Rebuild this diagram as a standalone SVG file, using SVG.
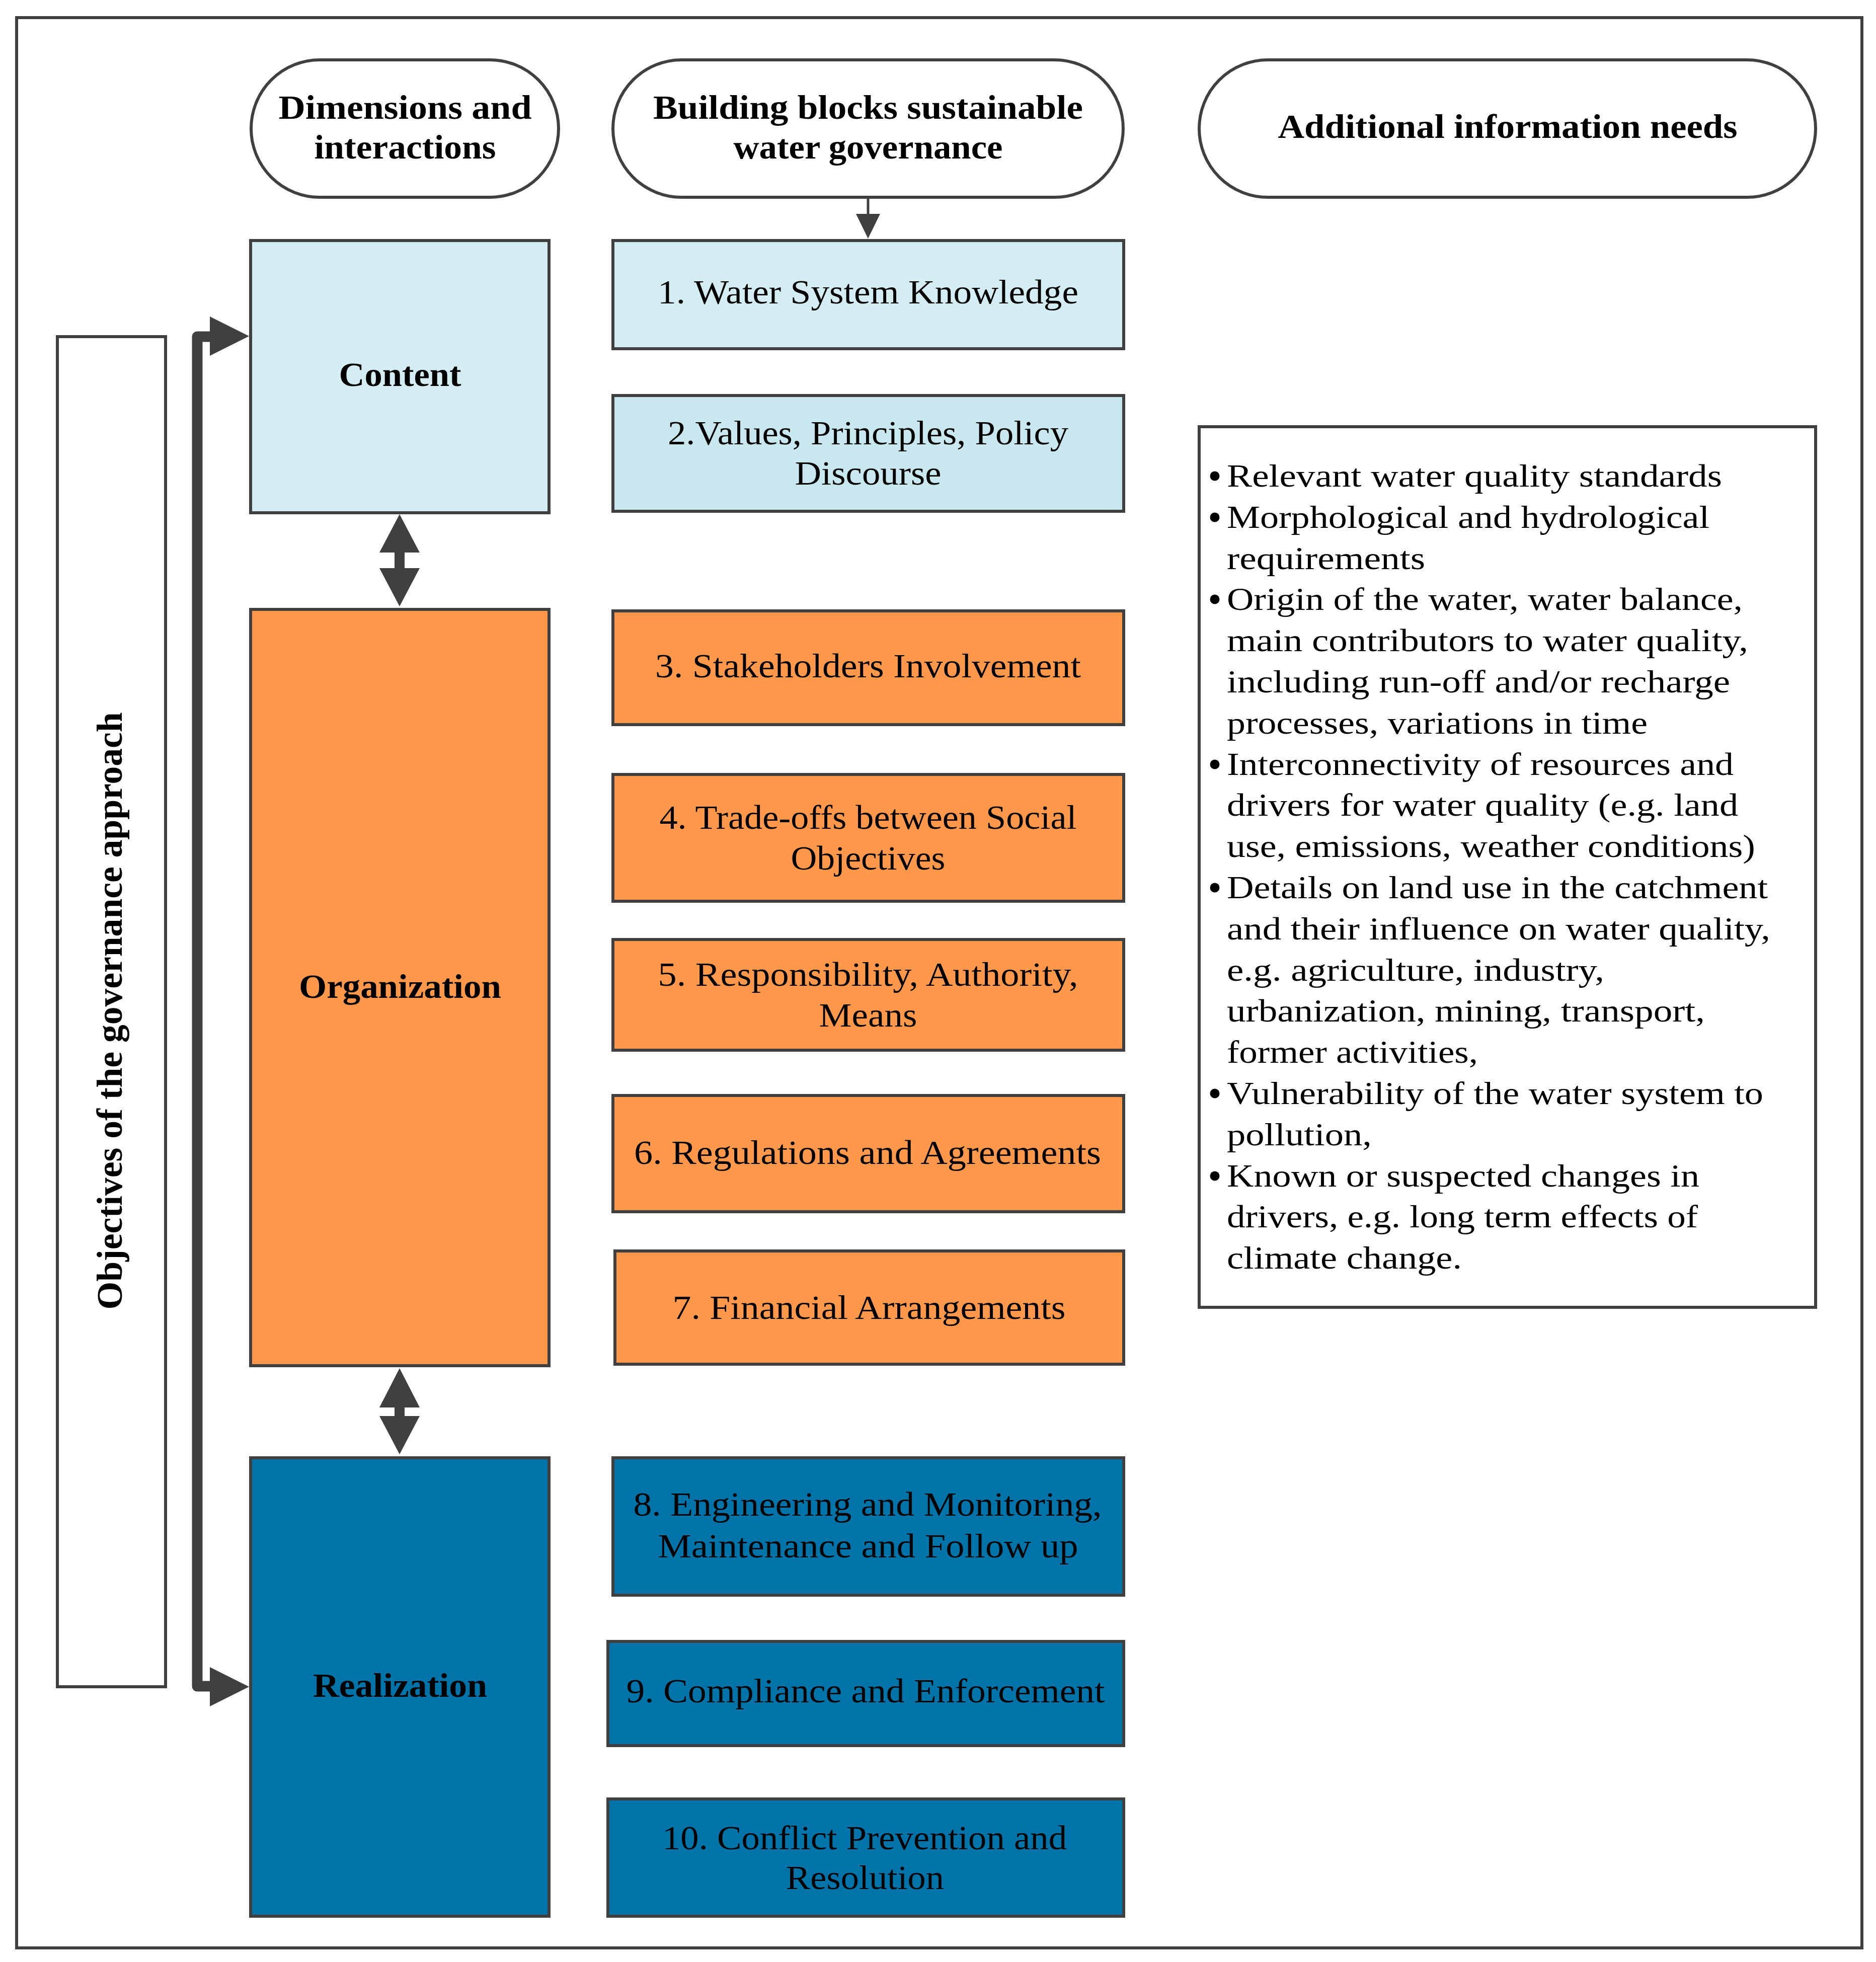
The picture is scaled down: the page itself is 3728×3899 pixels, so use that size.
<svg xmlns="http://www.w3.org/2000/svg" width="3728" height="3899" viewBox="0 0 3728 3899">
<style>
.ln{fill:none;stroke:#404040;stroke-width:6}
.pill{fill:#ffffff;stroke:#404040;stroke-width:6}
.lb1{fill:#D4EDF2;stroke:#404040;stroke-width:6}
.lb2{fill:#C9E7EE;stroke:#404040;stroke-width:6}
.or{fill:#FF984A;stroke:#404040;stroke-width:6}
.bl{fill:#0073A8;stroke:#404040;stroke-width:6}
.wh{fill:#ffffff;stroke:#404040;stroke-width:6}
.hd{font-family:"Liberation Serif",serif;font-weight:bold;font-size:68px;fill:#000;text-anchor:middle}
.tx{font-family:"Liberation Serif",serif;font-size:68px;fill:#000;text-anchor:middle}
.bt{font-family:"Liberation Serif",serif;font-size:64px;fill:#000}
.vt{font-family:"Liberation Serif",serif;font-weight:bold;font-size:72px;fill:#000;text-anchor:middle}
.ah{fill:#404040}
</style>
<defs>
<path id="headR" d="M0,-39 L78,0 L0,39 Z"/>
<circle id="dot" r="9.5" fill="#000"/>
</defs>
<rect x="0" y="0" width="3728" height="3899" fill="#ffffff"/>
<rect id="frame" class="ln" x="33" y="35" width="3667" height="3836"/>

<g id="hdr-dimensions">
<rect class="pill" x="499" y="119" width="611" height="273" rx="136.5"/>
<text class="hd" x="805" y="236" textLength="503" lengthAdjust="spacingAndGlyphs">Dimensions and</text>
<text class="hd" x="805" y="315" textLength="361" lengthAdjust="spacingAndGlyphs">interactions</text>
</g>
<g id="hdr-building">
<rect class="pill" x="1218" y="119" width="1014" height="273" rx="136.5"/>
<text class="hd" x="1725" y="236" textLength="854" lengthAdjust="spacingAndGlyphs">Building blocks sustainable</text>
<text class="hd" x="1725" y="315" textLength="535" lengthAdjust="spacingAndGlyphs">water governance</text>
</g>
<g id="hdr-additional">
<rect class="pill" x="2383" y="119" width="1225" height="273" rx="136.5"/>
<text class="hd" x="2996" y="274" textLength="913" lengthAdjust="spacingAndGlyphs">Additional information needs</text>
</g>

<g id="objectives">
<rect class="wh" x="114" y="669" width="215" height="2683"/>
<text class="vt" transform="translate(242,2009) rotate(-90)" x="0" y="0" textLength="1187" lengthAdjust="spacingAndGlyphs">Objectives of the governance approach</text>
</g>

<g id="content">
<rect class="lb1" x="498" y="478" width="593" height="541"/>
<text class="hd" x="795" y="767" textLength="243" lengthAdjust="spacingAndGlyphs">Content</text>
</g>
<g id="organization">
<rect class="or" x="498" y="1211" width="593" height="1503"/>
<text class="hd" x="795" y="1983" textLength="402" lengthAdjust="spacingAndGlyphs">Organization</text>
</g>
<g id="realization">
<rect class="bl" x="498" y="2897" width="593" height="911"/>
<text class="hd" x="795" y="3372" textLength="346" lengthAdjust="spacingAndGlyphs">Realization</text>
</g>

<g id="b1">
<rect class="lb1" x="1218" y="478" width="1015" height="215"/>
<text class="tx" x="1725" y="603" textLength="836" lengthAdjust="spacingAndGlyphs">1. Water System Knowledge</text>
</g>
<g id="b2">
<rect class="lb2" x="1218" y="786" width="1015" height="230"/>
<text class="tx" x="1725" y="883" textLength="796" lengthAdjust="spacingAndGlyphs">2.Values, Principles, Policy</text>
<text class="tx" x="1725" y="963" textLength="291" lengthAdjust="spacingAndGlyphs">Discourse</text>
</g>
<g id="b3">
<rect class="or" x="1218" y="1214" width="1015" height="226"/>
<text class="tx" x="1725" y="1346" textLength="846" lengthAdjust="spacingAndGlyphs">3. Stakeholders Involvement</text>
</g>
<g id="b4">
<rect class="or" x="1218" y="1539" width="1015" height="252"/>
<text class="tx" x="1725" y="1647" textLength="829" lengthAdjust="spacingAndGlyphs">4. Trade-offs between Social</text>
<text class="tx" x="1725" y="1728" textLength="307" lengthAdjust="spacingAndGlyphs">Objectives</text>
</g>
<g id="b5">
<rect class="or" x="1218" y="1867" width="1015" height="220"/>
<text class="tx" x="1725" y="1959" textLength="835" lengthAdjust="spacingAndGlyphs">5. Responsibility, Authority,</text>
<text class="tx" x="1725" y="2040" textLength="195" lengthAdjust="spacingAndGlyphs">Means</text>
</g>
<g id="b6">
<rect class="or" x="1218" y="2177" width="1015" height="231"/>
<text class="tx" x="1724" y="2313" textLength="928" lengthAdjust="spacingAndGlyphs">6. Regulations and Agreements</text>
</g>
<g id="b7">
<rect class="or" x="1222" y="2486" width="1011" height="225"/>
<text class="tx" x="1727" y="2621" textLength="781" lengthAdjust="spacingAndGlyphs">7. Financial Arrangements</text>
</g>
<g id="b8">
<rect class="bl" x="1218" y="2897" width="1015" height="273"/>
<text class="tx" x="1724" y="3012" textLength="931" lengthAdjust="spacingAndGlyphs">8. Engineering and Monitoring,</text>
<text class="tx" x="1725" y="3095" textLength="835" lengthAdjust="spacingAndGlyphs">Maintenance and Follow up</text>
</g>
<g id="b9">
<rect class="bl" x="1208" y="3262" width="1025" height="207"/>
<text class="tx" x="1720" y="3383" textLength="951" lengthAdjust="spacingAndGlyphs">9. Compliance and Enforcement</text>
</g>
<g id="b10">
<rect class="bl" x="1208" y="3575" width="1025" height="233"/>
<text class="tx" x="1718" y="3675" textLength="804" lengthAdjust="spacingAndGlyphs">10. Conflict Prevention and</text>
<text class="tx" x="1719" y="3754" textLength="314" lengthAdjust="spacingAndGlyphs">Resolution</text>
</g>

<g id="info">
<rect class="wh" x="2383" y="848" width="1225" height="1750"/>
<use href="#dot" x="2414" y="946"/>
<use href="#dot" x="2414" y="1028"/>
<use href="#dot" x="2414" y="1191"/>
<use href="#dot" x="2414" y="1519"/>
<use href="#dot" x="2414" y="1764"/>
<use href="#dot" x="2414" y="2173"/>
<use href="#dot" x="2414" y="2337"/>
<text class="bt" x="2438" y="967" textLength="984" lengthAdjust="spacingAndGlyphs">Relevant water quality standards</text>
<text class="bt" x="2438" y="1049" textLength="959" lengthAdjust="spacingAndGlyphs">Morphological and hydrological</text>
<text class="bt" x="2438" y="1131" textLength="394" lengthAdjust="spacingAndGlyphs">requirements</text>
<text class="bt" x="2438" y="1212" textLength="1025" lengthAdjust="spacingAndGlyphs">Origin of the water, water balance,</text>
<text class="bt" x="2438" y="1294" textLength="1036" lengthAdjust="spacingAndGlyphs">main contributors to water quality,</text>
<text class="bt" x="2438" y="1376" textLength="1000" lengthAdjust="spacingAndGlyphs">including run-off and/or recharge</text>
<text class="bt" x="2438" y="1458" textLength="836" lengthAdjust="spacingAndGlyphs">processes, variations in time</text>
<text class="bt" x="2438" y="1540" textLength="1007" lengthAdjust="spacingAndGlyphs">Interconnectivity of resources and</text>
<text class="bt" x="2438" y="1621" textLength="1016" lengthAdjust="spacingAndGlyphs">drivers for water quality (e.g. land</text>
<text class="bt" x="2438" y="1703" textLength="1050" lengthAdjust="spacingAndGlyphs">use, emissions, weather conditions)</text>
<text class="bt" x="2438" y="1785" textLength="1075" lengthAdjust="spacingAndGlyphs">Details on land use in the catchment</text>
<text class="bt" x="2438" y="1867" textLength="1080" lengthAdjust="spacingAndGlyphs">and their influence on water quality,</text>
<text class="bt" x="2438" y="1949" textLength="750" lengthAdjust="spacingAndGlyphs">e.g. agriculture, industry,</text>
<text class="bt" x="2438" y="2030" textLength="950" lengthAdjust="spacingAndGlyphs">urbanization, mining, transport,</text>
<text class="bt" x="2438" y="2112" textLength="499" lengthAdjust="spacingAndGlyphs">former activities,</text>
<text class="bt" x="2438" y="2194" textLength="1066" lengthAdjust="spacingAndGlyphs">Vulnerability of the water system to</text>
<text class="bt" x="2438" y="2276" textLength="288" lengthAdjust="spacingAndGlyphs">pollution,</text>
<text class="bt" x="2438" y="2358" textLength="939" lengthAdjust="spacingAndGlyphs">Known or suspected changes in</text>
<text class="bt" x="2438" y="2439" textLength="936" lengthAdjust="spacingAndGlyphs">drivers, e.g. long term effects of</text>
<text class="bt" x="2438" y="2521" textLength="467" lengthAdjust="spacingAndGlyphs">climate change.</text>
</g>

<g id="connectors">
<path d="M420,669 H392 V3351 H420" fill="none" stroke="#404040" stroke-width="21" stroke-linejoin="round"/>
<use href="#headR" class="ah" x="417" y="668"/>
<use href="#headR" class="ah" x="417" y="3352"/>
<path class="ah" d="M794,1022 L834,1098 L804,1098 L804,1129 L834,1129 L794,1205 L754,1129 L784,1129 L784,1098 L754,1098 Z"/>
<path class="ah" d="M794,2719 L834,2797 L804,2797 L804,2814 L834,2814 L794,2890 L754,2814 L784,2814 L784,2797 L754,2797 Z"/>
<line x1="1725" y1="392" x2="1725" y2="430" stroke="#404040" stroke-width="5"/>
<path class="ah" d="M1701,425 L1749,425 L1725,474 Z"/>
</g>
</svg>
